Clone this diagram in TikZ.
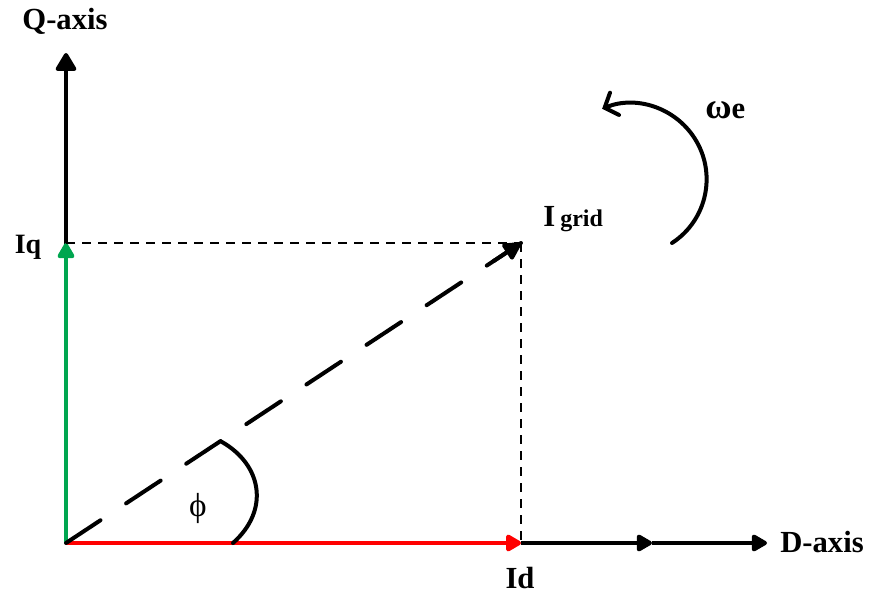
\documentclass[tikz,border=0pt]{standalone}
\usepackage{fontspec}
\setmainfont{Liberation Serif}
\usetikzlibrary{arrows.meta,calc}
\definecolor{qgreen}{RGB}{0,166,80}
\definecolor{dred}{RGB}{255,0,0}
\tikzset{
  axis/.style={line width=3pt},
  lbl/.style={font=\bfseries\fontsize{23}{26}\selectfont, inner sep=0pt, anchor=base},
  bigtip/.style={-{Triangle[length=15pt,width=17pt,round]}},
  midtip/.style={-{Triangle[length=13pt,width=14pt,round]}},
}
\begin{document}
\begin{tikzpicture}[x=0.75pt,y=-0.75pt]
\useasboundingbox (0,0) rectangle (872,596);
% key points
\coordinate (O) at (66,543);
\coordinate (Qtop) at (66,53);
\coordinate (Iqp) at (66,243);
\coordinate (Ig) at (521,243);
\coordinate (Idp) at (521,543);
\coordinate (Dmid) at (652,543);
\coordinate (Dend) at (767,543);
\coordinate (rotS) at (672,243);
\coordinate (phS) at (233,543);
\coordinate (phE) at (222,442);
\coordinate (IgS) at ($(O)!0.94!(Ig)$);
% Q axis
\draw[axis,bigtip] (O) -- (Qtop);
% green Iq
\draw[line width=3pt,qgreen,midtip] (O) -- (Iqp);
% projection dashes
\draw[line width=1pt,dash pattern=on 7pt off 5pt] (Iqp) -- (Ig);
\draw[line width=1pt,dash pattern=on 7pt off 5pt] (Ig) -- (Idp);
% D axis
\draw[axis,midtip] (Idp) -- (Dmid);
\draw[axis,midtip] (Dmid) -- (Dend);
% red Id
\draw[line width=3.5pt,dred,midtip] (O) -- (Idp);
% Igrid dashed vector
\draw[line width=3pt,line cap=round,dash pattern=on 31pt off 23pt] (O) -- (Ig);
\draw[line width=3pt,line cap=round,-{Triangle[length=15pt,width=15pt,round]}] (IgS) -- (Ig);
% phi arc
\draw[line width=3pt,line cap=round] (phS) .. controls (270,510) and (262,465) .. (phE);
% rotation arrow
\draw[line width=3pt,line cap=round,-{Straight Barb[length=8pt,width=18pt,line cap=round]}] (rotS) arc[start angle=-57,end angle=112,radius=57pt];
% labels
\node[lbl] (lQ) at (65,29) {Q-axis};
\node[lbl] (lD) at (822,552) {D-axis};
\node[lbl] (lId) at (520,588) {Id};
\node[lbl,font=\bfseries\fontsize{21}{24}\selectfont] (lIq) at (28,253) {Iq};
\node[lbl,anchor=base west] (lIg) at (543,226) {I\,{\fontsize{18}{20}\selectfont grid}};
\node[lbl,anchor=base west,font=\bfseries\fontsize{23}{26}\selectfont] (lw) at (705,118) {{\fontsize{27}{28}\selectfont ω}e};
\node[inner sep=0pt,anchor=base,font=\fontsize{25}{27}\selectfont] (lphi) at (198,516) {ϕ};
\end{tikzpicture}
\end{document}
